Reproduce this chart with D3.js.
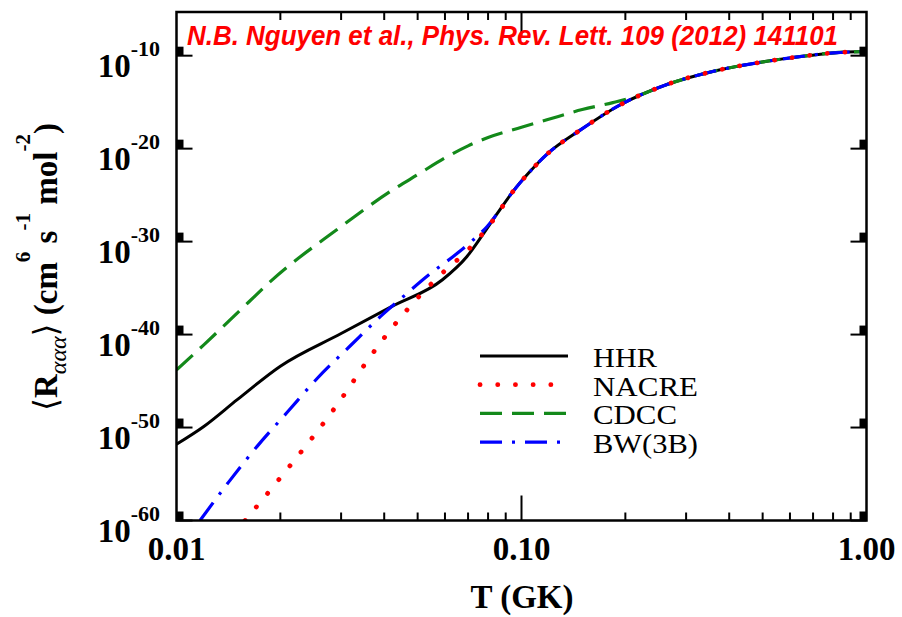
<!DOCTYPE html>
<html><head><meta charset="utf-8">
<script src="https://cdn.jsdelivr.net/npm/d3@7"></script>
<style>body{margin:0;background:#fff;} svg{display:block;}</style>
</head><body>
<svg id="c" width="902" height="617"></svg>
<script>
// ---------------- data ----------------
const T_HHR = [0.010, 0.012, 0.015, 0.020, 0.030, 0.042, 0.059, 0.0695, 0.0774, 0.085, 0.0945, 0.105, 0.1185, 0.148, 0.193, 0.264, 0.358, 0.514, 0.64, 0.80, 1.00];
const R_HHR = [1.6e-52, 1.3e-50, 1e-47, 4.0e-44, 1.3e-40, 1e-37, 7.9e-35, 2.5e-32, 6.3e-30, 1e-27, 2.5e-25, 2.5e-23, 2.5e-21, 1e-18, 5.0e-16, 7.9e-14, 2.0e-12, 2.5e-11, 7.9e-11, 2.0e-10, 2.8e-10];

const T_NACRE = [0.0158, 0.020, 0.0306, 0.035, 0.0403, 0.0502, 0.0593, 0.070, 0.0816, 0.0945, 0.105, 0.1185, 0.148, 0.193, 0.264, 0.358, 0.514, 0.64, 0.80, 1.00];
const R_NACRE = [1e-60, 4.0e-56, 3.2e-47, 5.0e-44, 6.3e-41, 1e-36, 5.0e-34, 1.26e-31, 1e-28, 2.5e-25, 2.5e-23, 2.5e-21, 1e-18, 5.0e-16, 7.9e-14, 2.0e-12, 2.5e-11, 7.9e-11, 2.0e-10, 2.8e-10];

const T_CDCC = [0.010, 0.012, 0.0162, 0.0187, 0.0292, 0.0425, 0.050, 0.060, 0.070, 0.080, 0.100, 0.1185, 0.150, 0.184, 0.210, 0.264, 0.358, 0.514, 0.64, 0.80, 1.00];
const R_CDCC = [1.6e-44, 7.9e-42, 3.2e-37, 5.0e-35, 2.0e-29, 4.0e-25, 1.6e-23, 1e-21, 2.0e-20, 1.6e-19, 2.0e-18, 1.26e-17, 1.6e-16, 8.9e-16, 3.2e-15, 7.9e-14, 2.0e-12, 2.5e-11, 7.9e-11, 2.0e-10, 2.8e-10];

const T_BW = [0.0117, 0.01414, 0.01715, 0.0210, 0.0256, 0.0319, 0.0397, 0.0445, 0.0555, 0.0634, 0.0710, 0.0794, 0.0945, 0.105, 0.1185, 0.148, 0.193, 0.264, 0.358, 0.514, 0.64, 0.80, 1.00];
const R_BW = [1e-60, 1.26e-56, 1e-52, 5.0e-49, 2.0e-45, 6.3e-42, 1.6e-38, 6.3e-37, 6.3e-34, 2.5e-32, 7.9e-31, 4.0e-29, 2.5e-25, 2.5e-23, 2.5e-21, 1e-18, 5.0e-16, 7.9e-14, 2.0e-12, 2.5e-11, 7.9e-11, 2.0e-10, 2.8e-10];

const legendNames = ["HHR", "NACRE", "CDCC", "BW(3B)"];
const yTickExponents = [-10, -20, -30, -40, -50, -60];
const xTickValues = [0.01, 0.1, 1];
const xTickLabels = ["0.01", "0.10", "1.00"];
const xDomain = [0.01, 1];
const yDomain = [1e-60, 5e-6];
const citation = "N.B. Nguyen et al., Phys. Rev. Lett. 109 (2012) 141101";

// ---------------- styles ----------------
const styles = {
  "HHR":    {color: "#000000", width: 3,   dash: null,          cap: "butt"},
  "NACRE":  {color: "#ff0000", width: 4.8, dash: "0.1 17.6",    cap: "round"},
  "CDCC":   {color: "#13891a", width: 3.2, dash: "22 10",       cap: "butt"},
  "BW(3B)": {color: "#0000ff", width: 3.2, dash: "22 10 3 10",  cap: "butt"}
};
const legendWidths = {"HHR": 64, "NACRE": 105, "CDCC": 84, "BW(3B)": 105};

const series = [
  {name: "HHR", T: T_HHR, R: R_HHR},
  {name: "CDCC", T: T_CDCC, R: R_CDCC},
  {name: "BW(3B)", T: T_BW, R: R_BW},
  {name: "NACRE", T: T_NACRE, R: R_NACRE}
];

// ---------------- chart ----------------
const svg = d3.select("#c");
const L = 176.5, R = 866.5, TOP = 12, BOT = 520.5;
const x = d3.scaleLog().domain(xDomain).range([L, R]);
const y = d3.scaleLog().domain(yDomain).range([BOT, TOP]);

svg.append("defs").append("clipPath").attr("id", "plotclip")
  .append("rect").attr("x", L).attr("y", TOP).attr("width", R - L).attr("height", BOT - TOP);

const line = d3.line().x(d => x(d[0])).y(d => y(d[1])).curve(d3.curveMonotoneX);

const gLines = svg.append("g").attr("clip-path", "url(#plotclip)");
series.forEach(s => {
  const st = styles[s.name];
  gLines.append("path")
    .datum(s.T.map((t, i) => [t, s.R[i]]))
    .attr("d", line)
    .attr("fill", "none")
    .attr("stroke", st.color)
    .attr("stroke-width", st.width)
    .attr("stroke-linecap", st.cap)
    .attr("stroke-linejoin", "round")
    .attr("stroke-dasharray", st.dash);
});

// frame
svg.append("rect").attr("x", L).attr("y", TOP).attr("width", R - L).attr("height", BOT - TOP)
  .attr("fill", "none").attr("stroke", "#000").attr("stroke-width", 2.5);

// x ticks (top & bottom, inward)
const xt = x.ticks();
const isMajor = v => Math.abs(Math.log10(v) - Math.round(Math.log10(v))) < 1e-9;
const gx = svg.append("g");
xt.forEach(v => {
  const px = x(v);
  if (px <= L + 1 || px >= R - 1) return;
  const len = isMajor(v) ? 25 : 8;
  gx.append("line").attr("x1", px).attr("x2", px).attr("y1", BOT).attr("y2", BOT - len)
    .attr("stroke", "#000").attr("stroke-width", 2);
  gx.append("line").attr("x1", px).attr("x2", px).attr("y1", TOP).attr("y2", TOP + len)
    .attr("stroke", "#000").attr("stroke-width", 2);
});
xTickValues.forEach((v, i) => {
  svg.append("text").attr("x", x(v)).attr("y", 560)
    .attr("text-anchor", "middle")
    .attr("font-family", "'Liberation Serif','Times New Roman',serif")
    .attr("font-weight", "bold").attr("font-size", 33)
    .text(xTickLabels[i]);
});

// y ticks (left & right) with labels
const gy = svg.append("g");
yTickExponents.forEach(e => {
  const py = y(Math.pow(10, e));
  gy.append("rect").attr("x", L).attr("y", py - 9).attr("width", 7).attr("height", 9).attr("fill", "#000");
  gy.append("line").attr("x1", L).attr("x2", L + 16).attr("y1", py).attr("y2", py)
    .attr("stroke", "#000").attr("stroke-width", 2);
  gy.append("rect").attr("x", R - 7).attr("y", py - 9).attr("width", 7).attr("height", 9).attr("fill", "#000");
  gy.append("line").attr("x1", R - 16).attr("x2", R).attr("y1", py).attr("y2", py)
    .attr("stroke", "#000").attr("stroke-width", 2);
  const t = gy.append("text").attr("x", 160).attr("y", py + 21)
    .attr("text-anchor", "end")
    .attr("font-family", "'Liberation Serif','Times New Roman',serif")
    .attr("font-weight", "bold");
  t.append("tspan").attr("font-size", 33).text("10");
  t.append("tspan").attr("font-size", 22).attr("dy", -21).text("-" + Math.abs(e));
});

// axis titles
svg.append("text").attr("x", 522).attr("y", 608).attr("text-anchor", "middle")
  .attr("font-family", "'Liberation Serif','Times New Roman',serif")
  .attr("font-weight", "bold").attr("font-size", 33).text("T (GK)");

const yt = svg.append("text")
  .attr("transform", "translate(57,267) rotate(-90)")
  .attr("text-anchor", "middle")
  .attr("font-family", "'Liberation Serif','Times New Roman','DejaVu Serif',serif")
  .attr("font-weight", "bold").attr("font-size", 33);
yt.append("tspan").attr("font-weight", "normal").text("\u27E8");
yt.append("tspan").text("R");
yt.append("tspan").attr("font-size", 24).attr("font-style", "italic").attr("font-weight", "normal").attr("dy", 9).text("\u03B1\u03B1\u03B1");
yt.append("tspan").attr("dy", -9).attr("font-weight", "normal").text("\u27E9");
yt.append("tspan").text(" (cm");
yt.append("tspan").attr("font-size", 21).attr("dy", -27).text("6");
yt.append("tspan").attr("dy", 27).text(" s");
yt.append("tspan").attr("font-size", 21).attr("dy", -27).text("-1");
yt.append("tspan").attr("dy", 27).text(" mol");
yt.append("tspan").attr("font-size", 21).attr("dy", -27).text("-2");
yt.append("tspan").attr("dy", 27).text(")");

// legend
const lg = svg.append("g");
legendNames.forEach((n, i) => {
  const st = styles[n];
  const base = 367 + i * 28.7;
  const ly = base - 11;
  lg.append("line").attr("x1", 480).attr("x2", 568).attr("y1", ly).attr("y2", ly)
    .attr("stroke", st.color).attr("stroke-width", st.width)
    .attr("stroke-linecap", st.cap).attr("stroke-dasharray", st.dash);
  lg.append("text").attr("x", 593).attr("y", base)
    .attr("font-family", "'Liberation Serif','Times New Roman',serif")
    .attr("font-size", 27)
    .attr("textLength", legendWidths[n]).attr("lengthAdjust", "spacingAndGlyphs")
    .text(n);
});

// citation
svg.append("text").attr("x", 187).attr("y", 45)
  .attr("font-family", "'Liberation Sans Narrow','Liberation Sans','Open Sans',sans-serif")
  .attr("font-weight", "bold").attr("font-style", "italic").attr("font-size", 27)
  .attr("fill", "#ff0000")
  .attr("textLength", 651).attr("lengthAdjust", "spacingAndGlyphs")
  .text(citation);
</script>
</body></html>
